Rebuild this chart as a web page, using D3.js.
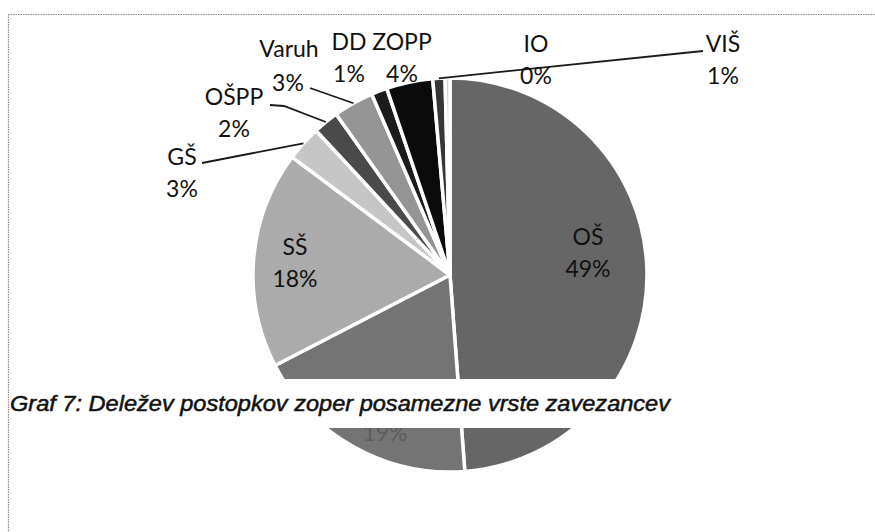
<!DOCTYPE html>
<html>
<head>
<meta charset="utf-8">
<script src="https://cdn.jsdelivr.net/npm/d3@7"></script>
<style>
  html, body { margin: 0; padding: 0; background: #fff; }
  svg { display: block; }
</style>
</head>
<body>
<svg id="chart" width="875" height="532"></svg>
<script>
// ---- data ----
const categories = ["OŠ", "VVZ", "SŠ", "GŠ", "OŠPP", "Varuh", "DD", "ZOPP", "VIŠ", "IO"];
const shares     = [48.8, 18.6, 17.8, 2.9, 2.1, 3.3, 1.3, 3.8, 1.0, 0.4];
const captionText = "Graf 7: Deležev postopkov zoper posamezne vrste zavezancev";

// ---- styles ----
const fills = ["#666666", "#747474", "#ababab", "#c6c6c6", "#4a4a4a", "#959595", "#1c1c1c", "#0b0b0b", "#363636", "#d2d2d2"];

// ---- layout (label centres; baseline = centre + 8) ----
const labelLayout = {
  "OŠ":    { x: 588, y: 237 },
  "VVZ":   { x: 385, y: 433, valueOnly: true, color: "#5c5c5c" },
  "SŠ":    { x: 295, y: 247 },
  "GŠ":    { x: 182, y: 157, leader: [[202, 163]] },
  "OŠPP":  { x: 234, y: 97,  leader: [[270, 105], [284, 106]] },
  "Varuh": { x: 289, y: 49, y2: 83, x2: 288, leader: [[310, 88]] },
  "DD":    { x: 349, y: 42 },
  "ZOPP":  { x: 402, y: 42 },
  "VIŠ":   { x: 723, y: 44, leader: [[703, 51]] },
  "IO":    { x: 536, y: 44 }
};
const lineGap = 32;

const W = 875, H = 532;
const cx = 450, cy = 275, R = 197;

const svg = d3.select("#chart");
const data = categories.map((c, i) => ({ name: c, value: shares[i], fill: fills[i] }));
const total = d3.sum(shares);

const pie = d3.pie().sort(null).value(d => d.value).startAngle(0).endAngle(2 * Math.PI);
const arcs = pie(data);
const arc = d3.arc().innerRadius(0).outerRadius(R);

const g = svg.append("g").attr("transform", `translate(${cx},${cy})`);

g.selectAll("path.slice")
  .data(arcs)
  .join("path")
  .attr("class", "slice")
  .attr("d", arc)
  .attr("fill", d => d.data.fill)
  .attr("stroke", "#fff")
  .attr("stroke-width", 3.5)
  .attr("stroke-linejoin", "round");

// leader lines
const outerPoint = d => {
  const a = (d.startAngle + d.endAngle) / 2;
  return [cx + R * Math.sin(a), cy - R * Math.cos(a)];
};
const line = d3.line();
arcs.forEach(d => {
  const L = labelLayout[d.data.name];
  if (L && L.leader) {
    const pts = L.leader.concat([outerPoint(d)]);
    svg.append("path")
      .attr("d", line(pts))
      .attr("fill", "none")
      .attr("stroke", "#1a1a1a")
      .attr("stroke-width", 1.8);
  }
});

// labels
const fmt = v => Math.round(v / total * 100) + "%";
arcs.forEach(d => {
  const L = labelLayout[d.data.name];
  const t = svg.append("text")
    .attr("font-family", "Lato, 'Open Sans', sans-serif")
    .attr("font-size", 23)
    .attr("fill", L.color || "#111")
    .attr("text-anchor", "middle");
  if (L.valueOnly) {
    t.append("tspan").attr("x", L.x).attr("y", L.y + 8).text(fmt(d.data.value));
    return;
  }
  t.append("tspan").attr("x", L.x).attr("y", L.y + 8).text(d.data.name);
  t.append("tspan").attr("x", L.x2 !== undefined ? L.x2 : L.x)
    .attr("y", (L.y2 !== undefined ? L.y2 : L.y + lineGap) + 8)
    .text(fmt(d.data.value));
});

// caption band over the chart
svg.append("rect")
  .attr("x", 9).attr("y", 379).attr("width", W - 9).attr("height", 49)
  .attr("fill", "#fff");
svg.append("text")
  .attr("x", 10).attr("y", 411)
  .attr("font-family", "'Liberation Sans', Arial, sans-serif")
  .attr("font-style", "italic")
  .attr("font-size", 22)
  .attr("textLength", 660)
  .attr("lengthAdjust", "spacingAndGlyphs")
  .attr("fill", "#111")
  .attr("stroke", "#111").attr("stroke-width", 0.5)
  .text(captionText);

// dotted frame
const frame = svg.append("g")
  .attr("stroke", "#8a8a8a").attr("stroke-width", 1.2)
  .attr("stroke-dasharray", "1.5,1").attr("fill", "none");
frame.append("line").attr("x1", 8).attr("y1", 14.5).attr("x2", W).attr("y2", 14.5);
frame.append("line").attr("x1", 8.5).attr("y1", 14).attr("x2", 8.5).attr("y2", H);
</script>
</body>
</html>
